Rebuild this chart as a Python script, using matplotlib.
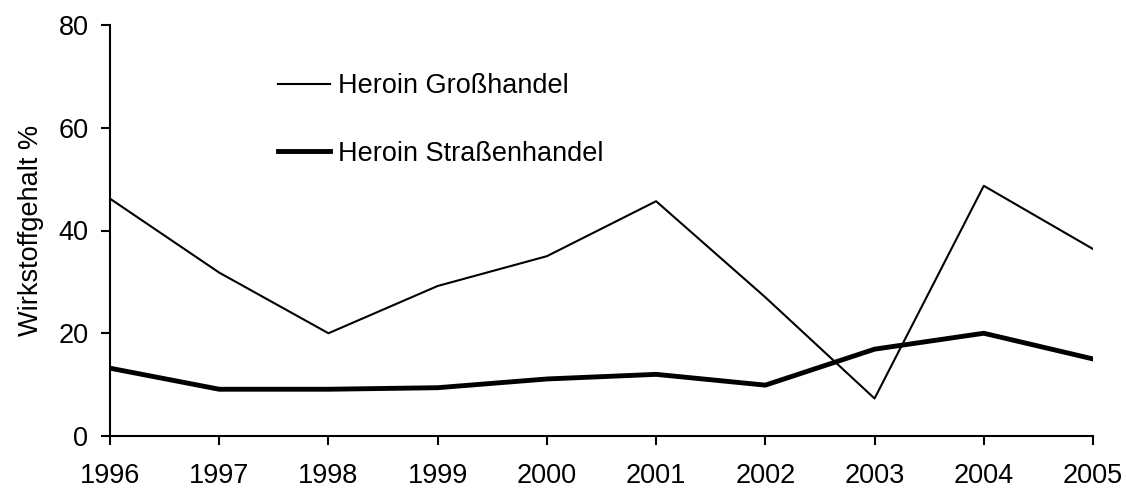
import matplotlib
matplotlib.use('Agg')
import matplotlib.pyplot as plt

plt.rcParams['font.family'] = ['Liberation Sans', 'DejaVu Sans']

# Data
years = [1996, 1997, 1998, 1999, 2000, 2001, 2002, 2003, 2004, 2005]
grosshandel = [46.2, 31.8, 20.0, 29.2, 35.0, 45.7, 27.0, 7.3, 48.7, 36.4]
strassenhandel = [13.2, 9.1, 9.1, 9.4, 11.1, 12.0, 9.9, 16.9, 20.0, 15.0]
yticks = [0, 20, 40, 60, 80]

fs = 19.5

fig = plt.figure(figsize=(11.26, 4.88), dpi=100)
ax = fig.add_axes([110 / 1126, 52 / 488, (1093 - 110) / 1126, (436 - 25) / 488])

ax.plot(years, grosshandel, color='black', lw=1.5, label='Heroin Großhandel')
ax.plot(years, strassenhandel, color='black', lw=3.5, label='Heroin Straßenhandel')

ax.set_xlim(years[0], years[-1])
ax.set_ylim(0, 80)
ax.set_xticks(years)
ax.set_yticks(yticks)
ax.tick_params(labelsize=fs, length=6.5, width=1.5, direction='out')
ax.tick_params(axis='x', pad=13)
ax.tick_params(axis='y', pad=9)

for side in ['top', 'right']:
    ax.spines[side].set_visible(False)
for side in ['left', 'bottom']:
    ax.spines[side].set_linewidth(1.5)

ax.set_ylabel('Wirkstoffgehalt %', fontsize=fs, labelpad=10)

ax.legend(loc='upper left', bbox_to_anchor=(278 / 1126, (488 - 73) / 488),
          bbox_transform=fig.transFigure, frameon=False, fontsize=fs,
          handlelength=1.93, handletextpad=0.3, labelspacing=1.55,
          borderpad=0, borderaxespad=0)

fig.savefig('out.png', dpi=100)
